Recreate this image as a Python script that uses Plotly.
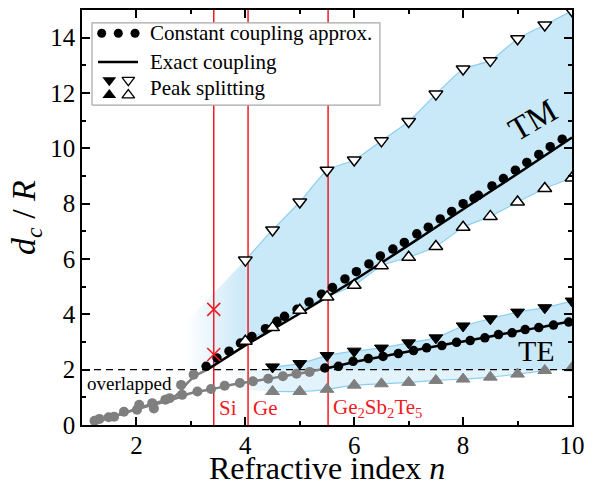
import plotly.graph_objects as go

# ---------------- data ----------------
# TM branch
tm_tri_n = [4.0, 4.5, 5.0, 5.5, 6.0, 6.5, 7.0, 7.5, 8.0, 8.5, 9.0, 9.5, 10.0]
tm_upper = [5.96, 7.05, 8.06, 9.21, 9.58, 10.27, 10.97, 11.96, 12.87, 13.17, 13.96, 14.46, 14.97]
tm_lower = [3.03, 3.52, 4.15, 4.63, 5.05, 5.76, 6.06, 6.45, 7.15, 7.54, 8.06, 8.55, 8.93]

tm_dot_n = [3.28, 3.48, 3.70, 3.91, 4.12, 4.37, 4.58, 4.72, 4.95, 5.17, 5.40, 5.60, 5.83, 6.04,
            6.27, 6.48, 6.71, 6.92, 7.15, 7.36, 7.58, 7.79, 8.00, 8.20, 8.28, 8.53, 8.74, 8.96,
            9.17, 9.39, 9.60, 9.82]
tm_dot_y = [2.12, 2.42, 2.67, 2.96, 3.20, 3.48, 3.75, 3.93, 4.18, 4.45, 4.73, 4.97, 5.28, 5.54,
            5.82, 6.11, 6.36, 6.60, 6.91, 7.15, 7.45, 7.72, 8.00, 8.20, 8.30, 8.64, 8.91, 9.21,
            9.49, 9.78, 10.06, 10.33]
tm_exact_n = [3.3, 4.0, 5.0, 6.0, 7.0, 8.0, 9.0, 10.0]
tm_exact_y = [2.0, 2.88, 4.03, 5.23, 6.50, 7.80, 9.08, 10.39]

tm_gray_dot_n = [1.23, 1.49, 1.77, 2.05, 2.29, 2.53, 2.82, 3.05]
tm_gray_dot_y = [0.15, 0.28, 0.48, 0.73, 0.79, 0.91, 1.45, 1.82]
tm_gray_line_n = [1.2, 1.5, 1.8, 2.1, 2.4, 2.65, 2.8, 2.95, 3.1, 3.3]
tm_gray_line_y = [0.10, 0.25, 0.45, 0.65, 0.82, 0.97, 1.20, 1.55, 1.80, 2.00]

# TE branch
te_tri_n = [4.5, 5.0, 5.5, 6.0, 6.5, 7.0, 7.5, 8.0, 8.5, 9.0, 9.5, 10.0]
te_upper = [2.10, 2.22, 2.51, 2.67, 2.78, 2.97, 3.15, 3.58, 3.84, 4.08, 4.24, 4.48]
te_lower = [1.21, 1.21, 1.29, 1.44, 1.49, 1.54, 1.61, 1.66, 1.73, 1.84, 1.97, 2.07]

te_dot_n = [5.46, 5.71, 5.98, 6.26, 6.53, 6.81, 7.09, 7.33, 7.61, 7.88, 8.13, 8.40, 8.65, 8.90,
            9.14, 9.39, 9.66, 9.94]
te_dot_y = [2.06, 2.12, 2.30, 2.40, 2.48, 2.58, 2.69, 2.79, 2.87, 2.99, 3.05, 3.15, 3.27, 3.33,
            3.45, 3.52, 3.61, 3.72]
te_exact_n = [5.5, 6.0, 6.5, 7.0, 7.5, 8.0, 8.5, 9.0, 9.5, 10.0]
te_exact_y = [2.05, 2.28, 2.47, 2.66, 2.85, 3.02, 3.20, 3.39, 3.56, 3.76]

te_gray_dot_n = [1.32, 1.59, 2.01, 2.32, 2.61, 2.84, 3.12, 3.37, 3.62, 3.90, 4.14, 4.42, 4.69, 4.94, 5.18]
te_gray_dot_y = [0.22, 0.30, 0.55, 0.60, 0.97, 1.09, 1.21, 1.30, 1.42, 1.52, 1.58, 1.67, 1.76, 1.85, 1.92]
te_gray_line_n = [1.2, 1.5, 1.8, 2.1, 2.4, 2.7, 3.0, 3.4, 3.8, 4.2, 4.6, 5.0, 5.5]
te_gray_line_y = [0.10, 0.25, 0.45, 0.62, 0.78, 0.95, 1.15, 1.30, 1.47, 1.60, 1.73, 1.86, 2.05]

# materials
mat_names = ["Si", "Ge", "Ge<sub>2</sub>Sb<sub>2</sub>Te<sub>5</sub>"]
mat_n = [3.42, 4.05, 5.52]
si_cross_y = [4.18, 2.55]

overlap_level = 2.0

# ---------------- styles ----------------
FONT = "Liberation Serif"
BAND = "rgb(201,232,248)"
BAND_LIGHT = "rgb(226,243,252)"
EDGE = "rgb(140,207,240)"
RED = "#ef1c24"
GRAY = "#7f7f7f"

fig = go.Figure()

# TM fade (gradient) to the left of the band
fig.add_trace(go.Scatter(
    x=[2.9, tm_tri_n[0], tm_tri_n[0], 3.3, 2.9],
    y=[3.7, tm_upper[0], tm_lower[0], 2.05, 2.0],
    mode="none", fill="toself",
    fillgradient=dict(type="horizontal", start=2.9, stop=tm_tri_n[0],
                      colorscale=[[0, "rgba(201,232,248,0)"], [1, "rgba(201,232,248,1)"]]),
    hoverinfo="skip"))

# TE fade (gradient)
fig.add_trace(go.Scatter(
    x=[3.6, te_tri_n[0], te_tri_n[0], 3.6],
    y=[overlap_level, overlap_level, te_lower[0], 1.3],
    mode="none", fill="toself",
    fillgradient=dict(type="horizontal", start=3.6, stop=te_tri_n[0],
                      colorscale=[[0, "rgba(226,243,252,0)"], [1, "rgba(226,243,252,1)"]]),
    hoverinfo="skip"))

# TM band
fig.add_trace(go.Scatter(x=tm_tri_n, y=tm_lower, mode="lines",
                         line=dict(color=EDGE, width=1.2, shape="spline", smoothing=0.5),
                         hoverinfo="skip"))
fig.add_trace(go.Scatter(x=tm_tri_n, y=tm_upper, mode="lines", fill="tonexty", fillcolor=BAND,
                         line=dict(color=EDGE, width=1.2, shape="spline", smoothing=0.5),
                         hoverinfo="skip"))

# TE band: lower (light) part and upper part
fig.add_trace(go.Scatter(x=te_tri_n, y=[overlap_level] * len(te_tri_n), mode="lines",
                         line=dict(width=0), hoverinfo="skip"))
fig.add_trace(go.Scatter(x=te_tri_n, y=te_lower, mode="lines", fill="tonexty", fillcolor=BAND_LIGHT,
                         line=dict(color=EDGE, width=1.2, shape="spline", smoothing=0.5),
                         hoverinfo="skip"))
fig.add_trace(go.Scatter(x=te_tri_n, y=[overlap_level] * len(te_tri_n), mode="lines",
                         line=dict(width=0), hoverinfo="skip"))
fig.add_trace(go.Scatter(x=te_tri_n, y=te_upper, mode="lines", fill="tonexty", fillcolor=BAND,
                         line=dict(color=EDGE, width=1.2, shape="spline", smoothing=0.5),
                         hoverinfo="skip"))

# dashed overlap line
fig.add_trace(go.Scatter(x=[1, 10], y=[overlap_level, overlap_level], mode="lines",
                         line=dict(color="black", width=1.3, dash="7px,5px"), hoverinfo="skip"))

# red material lines
for n in mat_n:
    fig.add_trace(go.Scatter(x=[n, n], y=[0, 15], mode="lines",
                             line=dict(color=RED, width=1.5), hoverinfo="skip"))

# gray (overlapped) parts
for xs, ys in [(tm_gray_line_n, tm_gray_line_y), (te_gray_line_n, te_gray_line_y)]:
    fig.add_trace(go.Scatter(x=xs, y=ys, mode="lines",
                             line=dict(color=GRAY, width=2.5, shape="spline", smoothing=0.4)))
for xs, ys in [(tm_gray_dot_n, tm_gray_dot_y), (te_gray_dot_n, te_gray_dot_y)]:
    fig.add_trace(go.Scatter(x=xs, y=ys, mode="markers",
                             marker=dict(color=GRAY, size=10, symbol="circle")))

# exact coupling lines
for xs, ys in [(tm_exact_n, tm_exact_y), (te_exact_n, te_exact_y)]:
    fig.add_trace(go.Scatter(x=xs, y=ys, mode="lines",
                             line=dict(color="black", width=2.5, shape="spline", smoothing=0.3)))

# constant coupling dots
for xs, ys in [(tm_dot_n, tm_dot_y), (te_dot_n, te_dot_y)]:
    fig.add_trace(go.Scatter(x=xs, y=ys, mode="markers",
                             marker=dict(color="black", size=9.5, symbol="circle")))

# peak splitting triangles
fig.add_trace(go.Scatter(x=tm_tri_n, y=tm_upper, mode="markers",
                         marker=dict(symbol="triangle-down", size=12, color="white",
                                     line=dict(color="black", width=1.5))))
fig.add_trace(go.Scatter(x=tm_tri_n, y=tm_lower, mode="markers",
                         marker=dict(symbol="triangle-up", size=12, color="white",
                                     line=dict(color="black", width=1.5))))
fig.add_trace(go.Scatter(x=te_tri_n, y=te_upper, mode="markers",
                         marker=dict(symbol="triangle-down", size=12, color="black",
                                     line=dict(color="black", width=1))))
fig.add_trace(go.Scatter(x=te_tri_n, y=te_lower, mode="markers",
                         marker=dict(symbol="triangle-up", size=12, color=GRAY,
                                     line=dict(color=GRAY, width=1))))

# Si crosses
fig.add_trace(go.Scatter(x=[mat_n[0]] * len(si_cross_y), y=si_cross_y, mode="markers",
                         marker=dict(symbol="x-thin", size=13, line=dict(color=RED, width=1.6))))

# ---------------- legend (drawn on an overlay axis in plot-fraction units) ----------------
leg_box_x = [0.0204, 0.608, 0.608, 0.0204, 0.0204]
leg_box_y = [0.771, 0.771, 0.969, 0.969, 0.771]
fig.add_trace(go.Scatter(x=leg_box_x, y=leg_box_y, xaxis="x2", yaxis="y2", mode="lines",
                         fill="toself", fillcolor="white",
                         line=dict(color="#a8a8a8", width=1.2), hoverinfo="skip"))
fig.add_trace(go.Scatter(x=[0.0402, 0.0741, 0.1082], y=[0.944] * 3, xaxis="x2", yaxis="y2",
                         mode="markers", marker=dict(color="black", size=9)))
fig.add_trace(go.Scatter(x=[0.0327, 0.1143], y=[0.875, 0.875], xaxis="x2", yaxis="y2",
                         mode="lines", line=dict(color="black", width=2.5)))
fig.add_trace(go.Scatter(x=[0.0557], y=[0.831], xaxis="x2", yaxis="y2", mode="markers",
                         marker=dict(symbol="triangle-down", size=12, color="black")))
fig.add_trace(go.Scatter(x=[0.0557], y=[0.795], xaxis="x2", yaxis="y2", mode="markers",
                         marker=dict(symbol="triangle-up", size=12, color="black")))
fig.add_trace(go.Scatter(x=[0.0945], y=[0.831], xaxis="x2", yaxis="y2", mode="markers",
                         marker=dict(symbol="triangle-down", size=11, color="white",
                                     line=dict(color="black", width=1.3))))
fig.add_trace(go.Scatter(x=[0.0945], y=[0.795], xaxis="x2", yaxis="y2", mode="markers",
                         marker=dict(symbol="triangle-up", size=11, color="white",
                                     line=dict(color="black", width=1.3))))

leg_labels = ["Constant coupling approx.", "Exact coupling", "Peak splitting"]
leg_y = [0.944, 0.875, 0.813]
annotations = []
for lab, yy in zip(leg_labels, leg_y):
    annotations.append(dict(x=0.1353, y=yy, xref="paper", yref="paper", text=lab,
                            showarrow=False, xanchor="left", yanchor="middle",
                            font=dict(family=FONT, size=21, color="black")))

# material labels
mat_label_x = [3.48, 4.1, 5.58]
for name, xx in zip(mat_names, mat_label_x):
    annotations.append(dict(x=xx, y=0.6, xref="x", yref="y", text=name, showarrow=False,
                            xanchor="left", yanchor="middle",
                            font=dict(family=FONT, size=21, color=RED)))

annotations += [
    dict(x=1.05, y=1.5, xref="x", yref="y", text="overlapped", showarrow=False,
         xanchor="left", yanchor="middle", font=dict(family=FONT, size=19, color="black")),
    dict(x=9.28, y=11.02, xref="x", yref="y", text="TM", showarrow=False, textangle=-30,
         font=dict(family=FONT, size=33, color="black")),
    dict(x=9.35, y=2.71, xref="x", yref="y", text="TE", showarrow=False,
         font=dict(family=FONT, size=30, color="black")),
    # x-axis title
    dict(x=0.5, y=-0.103, xref="paper", yref="paper", text="Refractive index <i>n</i>",
         showarrow=False, xanchor="center", yanchor="middle",
         font=dict(family=FONT, size=32, color="black")),
]

axis_common = dict(showline=True, linecolor="black", linewidth=1.5, mirror="allticks",
                   ticks="inside", ticklen=8, tickwidth=1.5, tickcolor="black",
                   showgrid=False, zeroline=False, automargin=False,
                   tickfont=dict(family=FONT, size=25, color="black"))

fig.update_layout(
    width=597, height=485,
    margin=dict(l=82, r=25, t=10, b=60),
    plot_bgcolor="white", paper_bgcolor="white",
    showlegend=False,
    font=dict(family=FONT, color="black"),
    xaxis=dict(range=[1, 10], tickvals=[2, 4, 6, 8, 10], ticklabelstandoff=-3,
               minor=dict(tickvals=[1, 3, 5, 7, 9], ticks="inside", ticklen=4,
                          tickwidth=1.5, tickcolor="black"),
               **axis_common),
    yaxis=dict(range=[0, 15], tickvals=[0, 2, 4, 6, 8, 10, 12, 14],
               minor=dict(tickvals=[1, 3, 5, 7, 9, 11, 13], ticks="inside", ticklen=4,
                          tickwidth=1.5, tickcolor="black"),
               title=dict(text="<i>d<sub>c</sub></i> / <i>R</i>", standoff=4,
                          font=dict(family=FONT, size=34, color="black")),
               **axis_common),
    xaxis2=dict(overlaying="x", range=[0, 1], visible=False, fixedrange=True),
    yaxis2=dict(overlaying="y", range=[0, 1], visible=False, fixedrange=True),
    annotations=annotations,
)

fig.write_html("out.html")
